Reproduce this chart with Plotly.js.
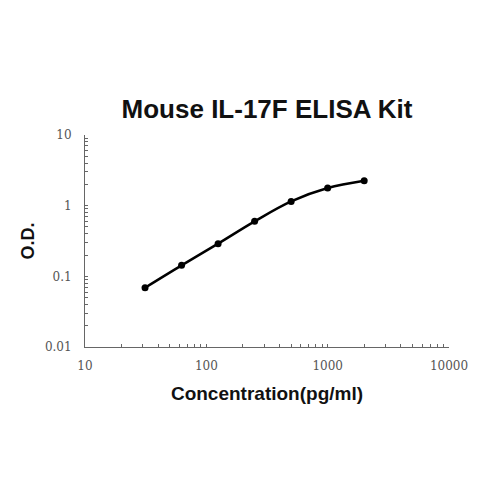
<!DOCTYPE html>
<html>
<head>
<meta charset="utf-8">
<script src="https://cdn.plot.ly/plotly-3.0.1.min.js"></script>
<style>html,body{margin:0;padding:0;background:#fff;}#chart{width:480px;height:480px;}</style>
</head>
<body>
<div id="chart"></div>
<script>
const concentration = [31.25, 62.5, 125, 250, 500, 1000, 2000];
const od = [0.069, 0.143, 0.29, 0.60, 1.15, 1.78, 2.25];
const xDecades = [10, 100, 1000, 10000];
const xDecadeLabels = ['10', '100', '1000', '10000'];
const yDecades = [0.01, 0.1, 1, 10];
const yDecadeLabels = ['0.01', '0.1', '1', '10'];
const digits = [1, 2, 3, 4, 5, 6, 7, 8, 9];

function buildTicks(decades, labels) {
  const vals = [], text = [];
  decades.forEach((d, i) => {
    if (i === decades.length - 1) { vals.push(d); text.push(labels[i]); return; }
    digits.forEach(k => { vals.push(d * k); text.push(k === 1 ? labels[i] : ''); });
  });
  return {vals, text};
}
const xt = buildTicks(xDecades, xDecadeLabels);
const yt = buildTicks(yDecades, yDecadeLabels);

const trace = {
  x: concentration,
  y: od,
  type: 'scatter',
  mode: 'lines+markers',
  line: {color: '#000', width: 2.5, shape: 'spline', smoothing: 1},
  marker: {color: '#000', size: 7},
  hoverinfo: 'none'
};

const tickFont = {family: '"DejaVu Serif", "Liberation Serif", serif', size: 12, color: '#555'};
const boldFont = '"Liberation Sans", Arial, sans-serif';

const layout = {
  width: 480, height: 480,
  margin: {l: 85, r: 31, t: 135, b: 133},
  paper_bgcolor: '#fff', plot_bgcolor: '#fff',
  showlegend: false,
  title: {
    text: '<b>Mouse IL-17F ELISA Kit</b>',
    font: {family: boldFont, size: 26, color: '#111'},
    x: 0.5, xanchor: 'center', y: 1 - 109/480, yanchor: 'middle', xref: 'paper'
  },
  xaxis: {
    type: 'log', range: [1, 4],
    tickmode: 'array', tickvals: xt.vals, ticktext: xt.text,
    ticks: 'inside', ticklen: 3, tickcolor: '#666', tickwidth: 1,
    showline: true, linecolor: '#666', linewidth: 1,
    showgrid: false, zeroline: false,
    tickfont: tickFont, ticklabelstandoff: 8,
    title: {text: '<b>Concentration(pg/ml)</b>', font: {family: boldFont, size: 19, color: '#111'}, standoff: 14}
  },
  yaxis: {
    type: 'log', range: [-2, 1],
    tickmode: 'array', tickvals: yt.vals, ticktext: yt.text,
    ticks: 'inside', ticklen: 3, tickcolor: '#666', tickwidth: 1,
    showline: true, linecolor: '#666', linewidth: 1,
    showgrid: false, zeroline: false,
    tickfont: tickFont, ticklabelstandoff: 10,
    title: {text: '<b>O.D.</b>', font: {family: boldFont, size: 18, color: '#111'}, standoff: 5}
  }
};

Plotly.newPlot('chart', [trace], layout, {staticPlot: true, displayModeBar: false});
</script>
</body>
</html>
